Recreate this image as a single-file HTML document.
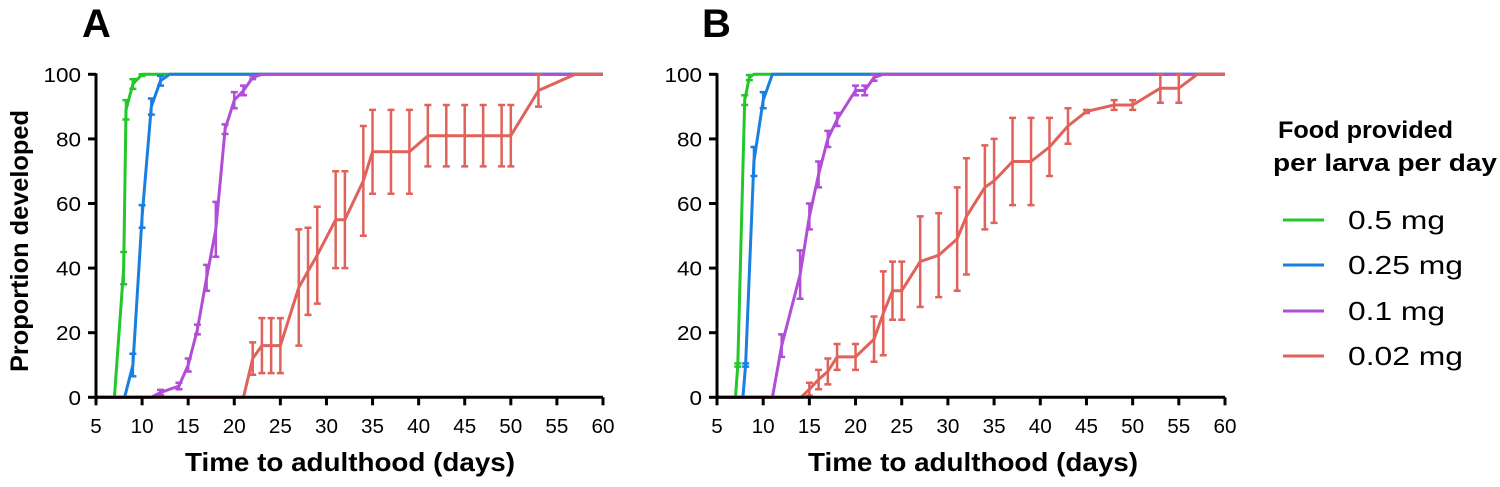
<!DOCTYPE html>
<html><head><meta charset="utf-8"><style>
body{margin:0;background:#fff;}
svg text{font-family:"Liberation Sans",Arial,sans-serif;}
</style></head><body>
<svg id="chart" width="1500" height="482" viewBox="0 0 1500 482" xmlns="http://www.w3.org/2000/svg">
<g id="root"></g>
</svg>
<script>
const xTicks=[5,10,15,20,25,30,35,40,45,50,55,60];
const yTicks=[0,20,40,60,80,100];
const seriesNames=["0.5 mg","0.25 mg","0.1 mg","0.02 mg"];
// Panel A
const aGreenX=[5,7,8,8.25,9,10,60];
const aGreenY=[0,0,40,89,97,100,100];
const aGreenE=[0,0,5,3,1.5,0.5,0];
const aBlueX=[5,8.1,9,10,11,12,13,60];
const aBlueY=[0,0,10,56,90,98,100,100];
const aBlueE=[0,0,3.5,3.5,2.5,1.5,0,0];
const aPurpleX=[5,11,12,14,15,16,17,18,19,20,21,22,23,60];
const aPurpleY=[0,0,1.5,3.5,10,21,37,52,83,92,95,99,100,100];
const aPurpleE=[0,0,0.8,1,2,1.5,4,8.5,1.5,2.5,1.5,0.5,0,0];
const aRedX=[5,21,22,23,24,25,27,28,29,31,32,34,35,37,39,41,43,45,47,49,50,53,57,60];
const aRedY=[0,0,12,16,16,16,34,39,44,55,55,67,76,76,76,81,81,81,81,81,81,95,100,100];
const aRedE=[0,0,5,8.5,8.5,8.5,18,13.5,15,15,15,17,13,13,13,9.5,9.5,9.5,9.5,9.5,9.5,5,0,0];
// Panel B
const bGreenX=[5,7,7.25,8,8.5,9,60];
const bGreenY=[0,0,10,92,99,100,100];
const bGreenE=[0,0,0.5,1.5,0.8,0,0];
const bBlueX=[5,7.8,8.1,9,10,11,60];
const bBlueY=[0,0,10,73,92,100,100];
const bBlueE=[0,0,0.5,4.5,2.5,0,0];
const bPurpleX=[5,11,12,14,15,16,17,18,20,21,22,23,60];
const bPurpleY=[0,0,16,38,56,69,80,86,95,95,99,100,100];
const bPurpleE=[0,0,3.5,7.5,4,4,2.5,2,1.5,1.5,1,0,0];
const bRedX=[5,14.1,15,16,17,18,20,22,23,24,25,27,29,31,32,34,35,37,39,41,43,45,48,50,53,55,57,60];
const bRedY=[0,0,2.5,5.5,8,12.5,12.5,18,26,33,33,42,44,49,56,65,67,73,73,77.5,84,88.5,90.5,90.5,95.7,95.7,100,100];
const bRedE=[0,0,2,3,4,4,4,7,13,9,9,14,13,16,18,13,13,13.5,13.5,9,5.5,0.5,1.5,1.5,4.5,4.5,0,0];

const colors=["#22c72a","#1a7fe0","#b24ed6","#e0625a"];
const NS="http://www.w3.org/2000/svg";
const root=document.getElementById('root');
function mk(tag,attrs,parent){const e=document.createElementNS(NS,tag);for(const k in attrs)e.setAttribute(k,attrs[k]);(parent||root).appendChild(e);return e;}

function panel(letter,x0,x1,yTop,yBot,series,letterX,titleCx){
  const g=mk('g',{});
  
  
  const sx=v=>x0+(v-5)/(60-5)*(x1-x0);
  const sy=v=>yBot-(v/100)*(yBot-yTop);
  series.forEach((s,i)=>{
    const sg=mk('g',{},g);
    
    
    const [xs,ys,es]=s;
    const pts=xs.map((x,j)=>sx(x).toFixed(1)+','+sy(ys[j]).toFixed(1)).join(' ');
    const pl=mk('polyline',{points:pts,fill:'none',stroke:colors[i],'stroke-width':3,'stroke-linejoin':'round'},sg);
    
    
    xs.forEach((x,j)=>{
      if(es[j]>0){
        const cx=sx(x),t=sy(Math.min(100,ys[j]+es[j])),b=sy(ys[j]-es[j]);
        const eb=mk('path',{d:`M${cx},${t}V${b}M${cx-3.5},${t}H${cx+3.5}M${cx-3.5},${b}H${cx+3.5}`,stroke:colors[i],'stroke-width':2.5,fill:'none'},sg);
        
        
      }
    });
  });
  const ax=mk('path',{d:`M${x0},${yTop-1}V${yBot}H${x1}`,stroke:'#000','stroke-width':3,fill:'none'},g);
  
  
  xTicks.forEach(t=>{
    mk('line',{x1:sx(t),x2:sx(t),y1:yBot,y2:yBot+8,stroke:'#000','stroke-width':3},g);
    const s=String(t);
    const tx=mk('text',{x:sx(t),y:433,'font-size':20,'text-anchor':'middle',textLength:s.length*11.5,lengthAdjust:'spacingAndGlyphs'},g);
    tx.textContent=s;
    
    
  });
  yTicks.forEach(t=>{
    mk('line',{x1:x0-8,x2:x0,y1:sy(t),y2:sy(t),stroke:'#000','stroke-width':3},g);
    const s=String(t);
    const tx=mk('text',{x:x0-15,y:sy(t)+7.5,'font-size':20,'text-anchor':'end',textLength:s.length*12.5,lengthAdjust:'spacingAndGlyphs'},g);
    tx.textContent=s;
    
    
  });
  const xt=mk('text',{x:titleCx,y:471,'font-size':26,'font-weight':'bold','text-anchor':'middle',textLength:330,lengthAdjust:'spacingAndGlyphs'},g);
  xt.textContent='Time to adulthood (days)';
  
  
  const pl=mk('text',{x:letterX,y:37,'font-size':40,'font-weight':'bold'},g);
  pl.textContent=letter;
  
  
}
panel('A',96,603,74.3,397.3,[[aGreenX,aGreenY,aGreenE],[aBlueX,aBlueY,aBlueE],[aPurpleX,aPurpleY,aPurpleE],[aRedX,aRedY,aRedE]],82,350);
panel('B',717,1225,74.3,397.3,[[bGreenX,bGreenY,bGreenE],[bBlueX,bBlueY,bBlueE],[bPurpleX,bPurpleY,bPurpleE],[bRedX,bRedY,bRedE]],702,973);

const yt=mk('text',{x:0,y:0,'font-size':25,'font-weight':'bold','text-anchor':'middle',textLength:262,lengthAdjust:'spacingAndGlyphs',transform:'translate(28,241) rotate(-90)'});
yt.textContent='Proportion developed';



const lg=mk('g',{});


const t1=mk('text',{x:1278,y:138,'font-size':24,'font-weight':'bold',textLength:175,lengthAdjust:'spacingAndGlyphs'},lg);
t1.textContent='Food provided';


const t2=mk('text',{x:1273,y:171,'font-size':24,'font-weight':'bold',textLength:224,lengthAdjust:'spacingAndGlyphs'},lg);
t2.textContent='per larva per day';


const ly=[220,265,311,356];
const lw=[97,115,97,115];
seriesNames.forEach((n,i)=>{
  const e=mk('g',{},lg);
  
  
  mk('line',{x1:1283,x2:1324,y1:ly[i],y2:ly[i],stroke:colors[i],'stroke-width':3},e);
  const t=mk('text',{x:1348,y:ly[i]+9,'font-size':26,textLength:lw[i],lengthAdjust:'spacingAndGlyphs'},e);
  t.textContent=n;
});
</script>
</body></html>
